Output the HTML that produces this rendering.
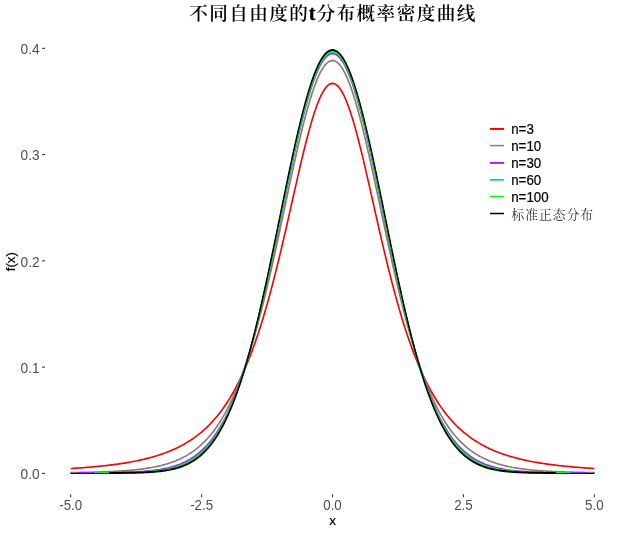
<!DOCTYPE html>
<html lang="zh"><head><meta charset="utf-8"><title>不同自由度的t分布概率密度曲线</title>
<style>
html,body{margin:0;padding:0;background:#fff;}
body{width:626px;height:533px;overflow:hidden;}
svg{display:block;}
text{font-family:"Liberation Sans",sans-serif;font-size:13.33px;}
.ax text{fill:#4D4D4D;}
.tk line{stroke:#333333;stroke-width:1.07;}
.cv path{fill:none;stroke-linejoin:round;stroke-linecap:butt;}
.ttl{font-family:"Liberation Serif","Noto Serif CJK SC",serif;font-weight:bold;font-size:20px;fill:#000;}
.tc{font-size:18.6px;letter-spacing:1.4px;font-weight:600;}
.tc2{letter-spacing:1.47px;}
.tt{font-size:20px;font-weight:bold;stroke:#000;stroke-width:0.3px;}
.lg{fill:#000;stroke:#000;stroke-width:0.2px;}
.lgc{font-family:"Liberation Serif","Noto Serif CJK SC",serif;font-weight:300;fill:#000;font-size:12.7px;letter-spacing:1.1px;}
.at{fill:#000;stroke:#000;stroke-width:0.2px;}
</style></head><body>
<svg width="626" height="533" viewBox="0 0 626 533">
<rect width="626" height="533" fill="#fff"/>
<text class="ttl" y="20.1"><tspan class="tc" x="189.3">不同自由度的</tspan><tspan class="tt" x="308.7">t</tspan><tspan class="tc tc2" x="316.4">分布概率密度曲线</tspan></text>
<g class="cv"><path d="M70.70,468.53 L72.01,468.45 L73.32,468.36 L74.63,468.28 L75.94,468.19 L77.25,468.11 L78.55,468.02 L79.86,467.92 L81.17,467.83 L82.48,467.73 L83.79,467.63 L85.10,467.53 L86.41,467.43 L87.72,467.32 L89.03,467.22 L90.34,467.11 L91.64,466.99 L92.95,466.88 L94.26,466.76 L95.57,466.64 L96.88,466.51 L98.19,466.39 L99.50,466.26 L100.81,466.12 L102.12,465.99 L103.42,465.85 L104.73,465.70 L106.04,465.56 L107.35,465.41 L108.66,465.25 L109.97,465.10 L111.28,464.93 L112.59,464.77 L113.90,464.60 L115.21,464.43 L116.51,464.25 L117.82,464.06 L119.13,463.88 L120.44,463.69 L121.75,463.49 L123.06,463.29 L124.37,463.08 L125.68,462.87 L126.99,462.65 L128.30,462.43 L129.60,462.20 L130.91,461.96 L132.22,461.72 L133.53,461.47 L134.84,461.22 L136.15,460.96 L137.46,460.69 L138.77,460.41 L140.08,460.13 L141.39,459.84 L142.69,459.54 L144.00,459.23 L145.31,458.92 L146.62,458.60 L147.93,458.26 L149.24,457.92 L150.55,457.57 L151.86,457.21 L153.17,456.84 L154.48,456.46 L155.78,456.07 L157.09,455.67 L158.40,455.25 L159.71,454.83 L161.02,454.39 L162.33,453.94 L163.64,453.47 L164.95,453.00 L166.26,452.51 L167.57,452.00 L168.88,451.48 L170.18,450.95 L171.49,450.40 L172.80,449.83 L174.11,449.25 L175.42,448.65 L176.73,448.03 L178.04,447.40 L179.35,446.74 L180.66,446.07 L181.96,445.37 L183.27,444.66 L184.58,443.92 L185.89,443.16 L187.20,442.38 L188.51,441.57 L189.82,440.74 L191.13,439.88 L192.44,439.00 L193.75,438.09 L195.05,437.16 L196.36,436.19 L197.67,435.19 L198.98,434.17 L200.29,433.11 L201.60,432.02 L202.91,430.89 L204.22,429.73 L205.53,428.54 L206.84,427.31 L208.14,426.03 L209.45,424.72 L210.76,423.37 L212.07,421.98 L213.38,420.54 L214.69,419.06 L216.00,417.53 L217.31,415.95 L218.62,414.33 L219.93,412.65 L221.23,410.92 L222.54,409.14 L223.85,407.30 L225.16,405.41 L226.47,403.45 L227.78,401.44 L229.09,399.36 L230.40,397.22 L231.71,395.02 L233.02,392.75 L234.32,390.40 L235.63,387.99 L236.94,385.51 L238.25,382.95 L239.56,380.31 L240.87,377.60 L242.18,374.80 L243.49,371.93 L244.80,368.97 L246.11,365.92 L247.41,362.79 L248.72,359.57 L250.03,356.26 L251.34,352.86 L252.65,349.37 L253.96,345.78 L255.27,342.10 L256.58,338.32 L257.89,334.44 L259.20,330.47 L260.50,326.40 L261.81,322.23 L263.12,317.96 L264.43,313.59 L265.74,309.12 L267.05,304.55 L268.36,299.89 L269.67,295.13 L270.98,290.28 L272.29,285.33 L273.59,280.29 L274.90,275.16 L276.21,269.95 L277.52,264.66 L278.83,259.29 L280.14,253.85 L281.45,248.33 L282.76,242.76 L284.07,237.13 L285.38,231.44 L286.68,225.72 L287.99,219.95 L289.30,214.16 L290.61,208.35 L291.92,202.53 L293.23,196.71 L294.54,190.90 L295.85,185.12 L297.16,179.36 L298.47,173.65 L299.77,167.99 L301.08,162.41 L302.39,156.91 L303.70,151.50 L305.01,146.20 L306.32,141.03 L307.63,135.99 L308.94,131.11 L310.25,126.39 L311.56,121.85 L312.86,117.50 L314.17,113.36 L315.48,109.45 L316.79,105.76 L318.10,102.32 L319.41,99.13 L320.72,96.22 L322.03,93.58 L323.34,91.23 L324.65,89.17 L325.95,87.42 L327.26,85.98 L328.57,84.85 L329.88,84.04 L331.19,83.56 L332.50,83.39 L333.81,83.56 L335.12,84.04 L336.43,84.85 L337.74,85.98 L339.04,87.42 L340.35,89.17 L341.66,91.23 L342.97,93.58 L344.28,96.22 L345.59,99.13 L346.90,102.32 L348.21,105.76 L349.52,109.45 L350.83,113.36 L352.13,117.50 L353.44,121.85 L354.75,126.39 L356.06,131.11 L357.37,135.99 L358.68,141.03 L359.99,146.20 L361.30,151.50 L362.61,156.91 L363.92,162.41 L365.22,167.99 L366.53,173.65 L367.84,179.36 L369.15,185.12 L370.46,190.90 L371.77,196.71 L373.08,202.53 L374.39,208.35 L375.70,214.16 L377.01,219.95 L378.31,225.72 L379.62,231.44 L380.93,237.13 L382.24,242.76 L383.55,248.33 L384.86,253.85 L386.17,259.29 L387.48,264.66 L388.79,269.95 L390.10,275.16 L391.40,280.29 L392.71,285.33 L394.02,290.28 L395.33,295.13 L396.64,299.89 L397.95,304.55 L399.26,309.12 L400.57,313.59 L401.88,317.96 L403.19,322.23 L404.49,326.40 L405.80,330.47 L407.11,334.44 L408.42,338.32 L409.73,342.10 L411.04,345.78 L412.35,349.37 L413.66,352.86 L414.97,356.26 L416.28,359.57 L417.58,362.79 L418.89,365.92 L420.20,368.97 L421.51,371.93 L422.82,374.80 L424.13,377.60 L425.44,380.31 L426.75,382.95 L428.06,385.51 L429.37,387.99 L430.67,390.40 L431.98,392.75 L433.29,395.02 L434.60,397.22 L435.91,399.36 L437.22,401.44 L438.53,403.45 L439.84,405.41 L441.15,407.30 L442.46,409.14 L443.76,410.92 L445.07,412.65 L446.38,414.33 L447.69,415.95 L449.00,417.53 L450.31,419.06 L451.62,420.54 L452.93,421.98 L454.24,423.37 L455.55,424.72 L456.85,426.03 L458.16,427.31 L459.47,428.54 L460.78,429.73 L462.09,430.89 L463.40,432.02 L464.71,433.11 L466.02,434.17 L467.33,435.19 L468.64,436.19 L469.94,437.16 L471.25,438.09 L472.56,439.00 L473.87,439.88 L475.18,440.74 L476.49,441.57 L477.80,442.38 L479.11,443.16 L480.42,443.92 L481.73,444.66 L483.03,445.37 L484.34,446.07 L485.65,446.74 L486.96,447.40 L488.27,448.03 L489.58,448.65 L490.89,449.25 L492.20,449.83 L493.51,450.40 L494.82,450.95 L496.12,451.48 L497.43,452.00 L498.74,452.51 L500.05,453.00 L501.36,453.47 L502.67,453.94 L503.98,454.39 L505.29,454.83 L506.60,455.25 L507.91,455.67 L509.21,456.07 L510.52,456.46 L511.83,456.84 L513.14,457.21 L514.45,457.57 L515.76,457.92 L517.07,458.26 L518.38,458.60 L519.69,458.92 L521.00,459.23 L522.30,459.54 L523.61,459.84 L524.92,460.13 L526.23,460.41 L527.54,460.69 L528.85,460.96 L530.16,461.22 L531.47,461.47 L532.78,461.72 L534.09,461.96 L535.39,462.20 L536.70,462.43 L538.01,462.65 L539.32,462.87 L540.63,463.08 L541.94,463.29 L543.25,463.49 L544.56,463.69 L545.87,463.88 L547.18,464.06 L548.49,464.25 L549.79,464.43 L551.10,464.60 L552.41,464.77 L553.72,464.93 L555.03,465.10 L556.34,465.25 L557.65,465.41 L558.96,465.56 L560.27,465.70 L561.57,465.85 L562.88,465.99 L564.19,466.12 L565.50,466.26 L566.81,466.39 L568.12,466.51 L569.43,466.64 L570.74,466.76 L572.05,466.88 L573.36,466.99 L574.66,467.11 L575.97,467.22 L577.28,467.32 L578.59,467.43 L579.90,467.53 L581.21,467.63 L582.52,467.73 L583.83,467.83 L585.14,467.92 L586.45,468.02 L587.75,468.11 L589.06,468.19 L590.37,468.28 L591.68,468.36 L592.99,468.45 L594.30,468.53" stroke="#FF0000" stroke-width="1.65"/><path d="M70.70,472.58 L72.01,472.56 L73.32,472.55 L74.63,472.53 L75.94,472.51 L77.25,472.49 L78.55,472.47 L79.86,472.45 L81.17,472.42 L82.48,472.40 L83.79,472.38 L85.10,472.35 L86.41,472.32 L87.72,472.30 L89.03,472.27 L90.34,472.24 L91.64,472.20 L92.95,472.17 L94.26,472.14 L95.57,472.10 L96.88,472.06 L98.19,472.02 L99.50,471.98 L100.81,471.94 L102.12,471.90 L103.42,471.85 L104.73,471.80 L106.04,471.75 L107.35,471.70 L108.66,471.64 L109.97,471.59 L111.28,471.53 L112.59,471.46 L113.90,471.40 L115.21,471.33 L116.51,471.26 L117.82,471.18 L119.13,471.10 L120.44,471.02 L121.75,470.94 L123.06,470.85 L124.37,470.75 L125.68,470.66 L126.99,470.56 L128.30,470.45 L129.60,470.34 L130.91,470.22 L132.22,470.10 L133.53,469.97 L134.84,469.84 L136.15,469.70 L137.46,469.56 L138.77,469.41 L140.08,469.25 L141.39,469.09 L142.69,468.91 L144.00,468.73 L145.31,468.55 L146.62,468.35 L147.93,468.14 L149.24,467.93 L150.55,467.71 L151.86,467.47 L153.17,467.23 L154.48,466.97 L155.78,466.70 L157.09,466.42 L158.40,466.13 L159.71,465.83 L161.02,465.51 L162.33,465.18 L163.64,464.83 L164.95,464.46 L166.26,464.09 L167.57,463.69 L168.88,463.28 L170.18,462.84 L171.49,462.39 L172.80,461.92 L174.11,461.43 L175.42,460.92 L176.73,460.38 L178.04,459.82 L179.35,459.24 L180.66,458.63 L181.96,457.99 L183.27,457.33 L184.58,456.63 L185.89,455.91 L187.20,455.16 L188.51,454.37 L189.82,453.55 L191.13,452.70 L192.44,451.81 L193.75,450.88 L195.05,449.92 L196.36,448.91 L197.67,447.86 L198.98,446.77 L200.29,445.63 L201.60,444.44 L202.91,443.21 L204.22,441.93 L205.53,440.60 L206.84,439.21 L208.14,437.76 L209.45,436.26 L210.76,434.71 L212.07,433.09 L213.38,431.40 L214.69,429.65 L216.00,427.84 L217.31,425.96 L218.62,424.00 L219.93,421.98 L221.23,419.88 L222.54,417.70 L223.85,415.44 L225.16,413.11 L226.47,410.69 L227.78,408.19 L229.09,405.60 L230.40,402.92 L231.71,400.15 L233.02,397.29 L234.32,394.34 L235.63,391.29 L236.94,388.14 L238.25,384.90 L239.56,381.55 L240.87,378.11 L242.18,374.56 L243.49,370.91 L244.80,367.15 L246.11,363.29 L247.41,359.33 L248.72,355.26 L250.03,351.08 L251.34,346.80 L252.65,342.40 L253.96,337.91 L255.27,333.31 L256.58,328.60 L257.89,323.79 L259.20,318.88 L260.50,313.87 L261.81,308.76 L263.12,303.56 L264.43,298.26 L265.74,292.87 L267.05,287.39 L268.36,281.83 L269.67,276.20 L270.98,270.48 L272.29,264.70 L273.59,258.85 L274.90,252.94 L276.21,246.97 L277.52,240.96 L278.83,234.91 L280.14,228.82 L281.45,222.70 L282.76,216.56 L284.07,210.41 L285.38,204.26 L286.68,198.11 L287.99,191.97 L289.30,185.86 L290.61,179.78 L291.92,173.74 L293.23,167.75 L294.54,161.82 L295.85,155.96 L297.16,150.19 L298.47,144.50 L299.77,138.92 L301.08,133.45 L302.39,128.11 L303.70,122.90 L305.01,117.83 L306.32,112.92 L307.63,108.18 L308.94,103.61 L310.25,99.22 L311.56,95.03 L312.86,91.04 L314.17,87.26 L315.48,83.70 L316.79,80.38 L318.10,77.29 L319.41,74.44 L320.72,71.84 L322.03,69.50 L323.34,67.42 L324.65,65.61 L325.95,64.07 L327.26,62.81 L328.57,61.82 L329.88,61.11 L331.19,60.69 L332.50,60.55 L333.81,60.69 L335.12,61.11 L336.43,61.82 L337.74,62.81 L339.04,64.07 L340.35,65.61 L341.66,67.42 L342.97,69.50 L344.28,71.84 L345.59,74.44 L346.90,77.29 L348.21,80.38 L349.52,83.70 L350.83,87.26 L352.13,91.04 L353.44,95.03 L354.75,99.22 L356.06,103.61 L357.37,108.18 L358.68,112.92 L359.99,117.83 L361.30,122.90 L362.61,128.11 L363.92,133.45 L365.22,138.92 L366.53,144.50 L367.84,150.19 L369.15,155.96 L370.46,161.82 L371.77,167.75 L373.08,173.74 L374.39,179.78 L375.70,185.86 L377.01,191.97 L378.31,198.11 L379.62,204.26 L380.93,210.41 L382.24,216.56 L383.55,222.70 L384.86,228.82 L386.17,234.91 L387.48,240.96 L388.79,246.97 L390.10,252.94 L391.40,258.85 L392.71,264.70 L394.02,270.48 L395.33,276.20 L396.64,281.83 L397.95,287.39 L399.26,292.87 L400.57,298.26 L401.88,303.56 L403.19,308.76 L404.49,313.87 L405.80,318.88 L407.11,323.79 L408.42,328.60 L409.73,333.31 L411.04,337.91 L412.35,342.40 L413.66,346.80 L414.97,351.08 L416.28,355.26 L417.58,359.33 L418.89,363.29 L420.20,367.15 L421.51,370.91 L422.82,374.56 L424.13,378.11 L425.44,381.55 L426.75,384.90 L428.06,388.14 L429.37,391.29 L430.67,394.34 L431.98,397.29 L433.29,400.15 L434.60,402.92 L435.91,405.60 L437.22,408.19 L438.53,410.69 L439.84,413.11 L441.15,415.44 L442.46,417.70 L443.76,419.88 L445.07,421.98 L446.38,424.00 L447.69,425.96 L449.00,427.84 L450.31,429.65 L451.62,431.40 L452.93,433.09 L454.24,434.71 L455.55,436.26 L456.85,437.76 L458.16,439.21 L459.47,440.60 L460.78,441.93 L462.09,443.21 L463.40,444.44 L464.71,445.63 L466.02,446.77 L467.33,447.86 L468.64,448.91 L469.94,449.92 L471.25,450.88 L472.56,451.81 L473.87,452.70 L475.18,453.55 L476.49,454.37 L477.80,455.16 L479.11,455.91 L480.42,456.63 L481.73,457.33 L483.03,457.99 L484.34,458.63 L485.65,459.24 L486.96,459.82 L488.27,460.38 L489.58,460.92 L490.89,461.43 L492.20,461.92 L493.51,462.39 L494.82,462.84 L496.12,463.28 L497.43,463.69 L498.74,464.09 L500.05,464.46 L501.36,464.83 L502.67,465.18 L503.98,465.51 L505.29,465.83 L506.60,466.13 L507.91,466.42 L509.21,466.70 L510.52,466.97 L511.83,467.23 L513.14,467.47 L514.45,467.71 L515.76,467.93 L517.07,468.14 L518.38,468.35 L519.69,468.55 L521.00,468.73 L522.30,468.91 L523.61,469.09 L524.92,469.25 L526.23,469.41 L527.54,469.56 L528.85,469.70 L530.16,469.84 L531.47,469.97 L532.78,470.10 L534.09,470.22 L535.39,470.34 L536.70,470.45 L538.01,470.56 L539.32,470.66 L540.63,470.75 L541.94,470.85 L543.25,470.94 L544.56,471.02 L545.87,471.10 L547.18,471.18 L548.49,471.26 L549.79,471.33 L551.10,471.40 L552.41,471.46 L553.72,471.53 L555.03,471.59 L556.34,471.64 L557.65,471.70 L558.96,471.75 L560.27,471.80 L561.57,471.85 L562.88,471.90 L564.19,471.94 L565.50,471.98 L566.81,472.02 L568.12,472.06 L569.43,472.10 L570.74,472.14 L572.05,472.17 L573.36,472.20 L574.66,472.24 L575.97,472.27 L577.28,472.30 L578.59,472.32 L579.90,472.35 L581.21,472.38 L582.52,472.40 L583.83,472.42 L585.14,472.45 L586.45,472.47 L587.75,472.49 L589.06,472.51 L590.37,472.53 L591.68,472.55 L592.99,472.56 L594.30,472.58" stroke="#8B7D6B" stroke-width="1.65"/><path d="M70.70,472.97 L72.01,472.96 L73.32,472.96 L74.63,472.96 L75.94,472.95 L77.25,472.95 L78.55,472.95 L79.86,472.94 L81.17,472.94 L82.48,472.93 L83.79,472.93 L85.10,472.92 L86.41,472.92 L87.72,472.91 L89.03,472.91 L90.34,472.90 L91.64,472.89 L92.95,472.89 L94.26,472.88 L95.57,472.87 L96.88,472.86 L98.19,472.85 L99.50,472.84 L100.81,472.83 L102.12,472.81 L103.42,472.80 L104.73,472.79 L106.04,472.77 L107.35,472.75 L108.66,472.74 L109.97,472.72 L111.28,472.70 L112.59,472.68 L113.90,472.65 L115.21,472.63 L116.51,472.60 L117.82,472.58 L119.13,472.55 L120.44,472.51 L121.75,472.48 L123.06,472.44 L124.37,472.41 L125.68,472.36 L126.99,472.32 L128.30,472.27 L129.60,472.22 L130.91,472.17 L132.22,472.11 L133.53,472.05 L134.84,471.99 L136.15,471.92 L137.46,471.84 L138.77,471.76 L140.08,471.68 L141.39,471.59 L142.69,471.50 L144.00,471.39 L145.31,471.29 L146.62,471.17 L147.93,471.05 L149.24,470.92 L150.55,470.78 L151.86,470.64 L153.17,470.48 L154.48,470.32 L155.78,470.14 L157.09,469.96 L158.40,469.76 L159.71,469.55 L161.02,469.33 L162.33,469.09 L163.64,468.84 L164.95,468.58 L166.26,468.30 L167.57,468.00 L168.88,467.68 L170.18,467.35 L171.49,467.00 L172.80,466.63 L174.11,466.23 L175.42,465.81 L176.73,465.37 L178.04,464.91 L179.35,464.42 L180.66,463.90 L181.96,463.35 L183.27,462.77 L184.58,462.17 L185.89,461.53 L187.20,460.85 L188.51,460.14 L189.82,459.39 L191.13,458.60 L192.44,457.77 L193.75,456.90 L195.05,455.99 L196.36,455.03 L197.67,454.02 L198.98,452.96 L200.29,451.84 L201.60,450.68 L202.91,449.46 L204.22,448.18 L205.53,446.84 L206.84,445.44 L208.14,443.97 L209.45,442.44 L210.76,440.84 L212.07,439.16 L213.38,437.42 L214.69,435.60 L216.00,433.70 L217.31,431.72 L218.62,429.66 L219.93,427.51 L221.23,425.28 L222.54,422.95 L223.85,420.54 L225.16,418.04 L226.47,415.43 L227.78,412.74 L229.09,409.94 L230.40,407.04 L231.71,404.04 L233.02,400.94 L234.32,397.73 L235.63,394.41 L236.94,390.98 L238.25,387.45 L239.56,383.80 L240.87,380.04 L242.18,376.18 L243.49,372.19 L244.80,368.10 L246.11,363.89 L247.41,359.57 L248.72,355.14 L250.03,350.60 L251.34,345.94 L252.65,341.17 L253.96,336.30 L255.27,331.32 L256.58,326.23 L257.89,321.05 L259.20,315.76 L260.50,310.37 L261.81,304.89 L263.12,299.32 L264.43,293.66 L265.74,287.92 L267.05,282.09 L268.36,276.20 L269.67,270.23 L270.98,264.20 L272.29,258.12 L273.59,251.98 L274.90,245.79 L276.21,239.57 L277.52,233.31 L278.83,227.03 L280.14,220.73 L281.45,214.42 L282.76,208.10 L284.07,201.80 L285.38,195.50 L286.68,189.24 L287.99,183.00 L289.30,176.80 L290.61,170.66 L291.92,164.57 L293.23,158.55 L294.54,152.61 L295.85,146.76 L297.16,141.01 L298.47,135.36 L299.77,129.83 L301.08,124.42 L302.39,119.15 L303.70,114.03 L305.01,109.06 L306.32,104.25 L307.63,99.61 L308.94,95.16 L310.25,90.89 L311.56,86.82 L312.86,82.95 L314.17,79.30 L315.48,75.86 L316.79,72.66 L318.10,69.68 L319.41,66.94 L320.72,64.45 L322.03,62.20 L323.34,60.21 L324.65,58.48 L325.95,57.00 L327.26,55.79 L328.57,54.85 L329.88,54.17 L331.19,53.77 L332.50,53.63 L333.81,53.77 L335.12,54.17 L336.43,54.85 L337.74,55.79 L339.04,57.00 L340.35,58.48 L341.66,60.21 L342.97,62.20 L344.28,64.45 L345.59,66.94 L346.90,69.68 L348.21,72.66 L349.52,75.86 L350.83,79.30 L352.13,82.95 L353.44,86.82 L354.75,90.89 L356.06,95.16 L357.37,99.61 L358.68,104.25 L359.99,109.06 L361.30,114.03 L362.61,119.15 L363.92,124.42 L365.22,129.83 L366.53,135.36 L367.84,141.01 L369.15,146.76 L370.46,152.61 L371.77,158.55 L373.08,164.57 L374.39,170.66 L375.70,176.80 L377.01,183.00 L378.31,189.24 L379.62,195.50 L380.93,201.80 L382.24,208.10 L383.55,214.42 L384.86,220.73 L386.17,227.03 L387.48,233.31 L388.79,239.57 L390.10,245.79 L391.40,251.98 L392.71,258.12 L394.02,264.20 L395.33,270.23 L396.64,276.20 L397.95,282.09 L399.26,287.92 L400.57,293.66 L401.88,299.32 L403.19,304.89 L404.49,310.37 L405.80,315.76 L407.11,321.05 L408.42,326.23 L409.73,331.32 L411.04,336.30 L412.35,341.17 L413.66,345.94 L414.97,350.60 L416.28,355.14 L417.58,359.57 L418.89,363.89 L420.20,368.10 L421.51,372.19 L422.82,376.18 L424.13,380.04 L425.44,383.80 L426.75,387.45 L428.06,390.98 L429.37,394.41 L430.67,397.73 L431.98,400.94 L433.29,404.04 L434.60,407.04 L435.91,409.94 L437.22,412.74 L438.53,415.43 L439.84,418.04 L441.15,420.54 L442.46,422.95 L443.76,425.28 L445.07,427.51 L446.38,429.66 L447.69,431.72 L449.00,433.70 L450.31,435.60 L451.62,437.42 L452.93,439.16 L454.24,440.84 L455.55,442.44 L456.85,443.97 L458.16,445.44 L459.47,446.84 L460.78,448.18 L462.09,449.46 L463.40,450.68 L464.71,451.84 L466.02,452.96 L467.33,454.02 L468.64,455.03 L469.94,455.99 L471.25,456.90 L472.56,457.77 L473.87,458.60 L475.18,459.39 L476.49,460.14 L477.80,460.85 L479.11,461.53 L480.42,462.17 L481.73,462.77 L483.03,463.35 L484.34,463.90 L485.65,464.42 L486.96,464.91 L488.27,465.37 L489.58,465.81 L490.89,466.23 L492.20,466.63 L493.51,467.00 L494.82,467.35 L496.12,467.68 L497.43,468.00 L498.74,468.30 L500.05,468.58 L501.36,468.84 L502.67,469.09 L503.98,469.33 L505.29,469.55 L506.60,469.76 L507.91,469.96 L509.21,470.14 L510.52,470.32 L511.83,470.48 L513.14,470.64 L514.45,470.78 L515.76,470.92 L517.07,471.05 L518.38,471.17 L519.69,471.29 L521.00,471.39 L522.30,471.50 L523.61,471.59 L524.92,471.68 L526.23,471.76 L527.54,471.84 L528.85,471.92 L530.16,471.99 L531.47,472.05 L532.78,472.11 L534.09,472.17 L535.39,472.22 L536.70,472.27 L538.01,472.32 L539.32,472.36 L540.63,472.41 L541.94,472.44 L543.25,472.48 L544.56,472.51 L545.87,472.55 L547.18,472.58 L548.49,472.60 L549.79,472.63 L551.10,472.65 L552.41,472.68 L553.72,472.70 L555.03,472.72 L556.34,472.74 L557.65,472.75 L558.96,472.77 L560.27,472.79 L561.57,472.80 L562.88,472.81 L564.19,472.83 L565.50,472.84 L566.81,472.85 L568.12,472.86 L569.43,472.87 L570.74,472.88 L572.05,472.89 L573.36,472.89 L574.66,472.90 L575.97,472.91 L577.28,472.91 L578.59,472.92 L579.90,472.92 L581.21,472.93 L582.52,472.93 L583.83,472.94 L585.14,472.94 L586.45,472.95 L587.75,472.95 L589.06,472.95 L590.37,472.96 L591.68,472.96 L592.99,472.96 L594.30,472.97" stroke="#A020F0" stroke-width="1.65"/><path d="M70.70,472.99 L72.01,472.99 L73.32,472.99 L74.63,472.99 L75.94,472.99 L77.25,472.98 L78.55,472.98 L79.86,472.98 L81.17,472.98 L82.48,472.98 L83.79,472.98 L85.10,472.97 L86.41,472.97 L87.72,472.97 L89.03,472.96 L90.34,472.96 L91.64,472.96 L92.95,472.95 L94.26,472.95 L95.57,472.95 L96.88,472.94 L98.19,472.94 L99.50,472.93 L100.81,472.92 L102.12,472.92 L103.42,472.91 L104.73,472.90 L106.04,472.89 L107.35,472.88 L108.66,472.87 L109.97,472.86 L111.28,472.85 L112.59,472.84 L113.90,472.82 L115.21,472.81 L116.51,472.79 L117.82,472.77 L119.13,472.76 L120.44,472.74 L121.75,472.71 L123.06,472.69 L124.37,472.66 L125.68,472.63 L126.99,472.60 L128.30,472.57 L129.60,472.54 L130.91,472.50 L132.22,472.46 L133.53,472.41 L134.84,472.37 L136.15,472.32 L137.46,472.26 L138.77,472.20 L140.08,472.14 L141.39,472.07 L142.69,472.00 L144.00,471.92 L145.31,471.83 L146.62,471.74 L147.93,471.65 L149.24,471.54 L150.55,471.43 L151.86,471.31 L153.17,471.18 L154.48,471.05 L155.78,470.90 L157.09,470.74 L158.40,470.58 L159.71,470.40 L161.02,470.21 L162.33,470.00 L163.64,469.79 L164.95,469.55 L166.26,469.31 L167.57,469.04 L168.88,468.76 L170.18,468.47 L171.49,468.15 L172.80,467.81 L174.11,467.45 L175.42,467.07 L176.73,466.66 L178.04,466.23 L179.35,465.78 L180.66,465.29 L181.96,464.78 L183.27,464.24 L184.58,463.66 L185.89,463.05 L187.20,462.41 L188.51,461.73 L189.82,461.01 L191.13,460.25 L192.44,459.45 L193.75,458.60 L195.05,457.71 L196.36,456.77 L197.67,455.78 L198.98,454.74 L200.29,453.65 L201.60,452.50 L202.91,451.29 L204.22,450.02 L205.53,448.68 L206.84,447.29 L208.14,445.82 L209.45,444.28 L210.76,442.68 L212.07,441.00 L213.38,439.24 L214.69,437.40 L216.00,435.48 L217.31,433.48 L218.62,431.39 L219.93,429.22 L221.23,426.95 L222.54,424.59 L223.85,422.13 L225.16,419.58 L226.47,416.93 L227.78,414.18 L229.09,411.32 L230.40,408.36 L231.71,405.30 L233.02,402.12 L234.32,398.84 L235.63,395.45 L236.94,391.94 L238.25,388.32 L239.56,384.59 L240.87,380.74 L242.18,376.78 L243.49,372.70 L244.80,368.51 L246.11,364.21 L247.41,359.78 L248.72,355.25 L250.03,350.60 L251.34,345.84 L252.65,340.97 L253.96,335.98 L255.27,330.90 L256.58,325.70 L257.89,320.41 L259.20,315.01 L260.50,309.52 L261.81,303.94 L263.12,298.26 L264.43,292.50 L265.74,286.66 L267.05,280.75 L268.36,274.76 L269.67,268.70 L270.98,262.59 L272.29,256.42 L273.59,250.21 L274.90,243.95 L276.21,237.65 L277.52,231.33 L278.83,224.99 L280.14,218.63 L281.45,212.27 L282.76,205.92 L284.07,199.57 L285.38,193.24 L286.68,186.94 L287.99,180.68 L289.30,174.47 L290.61,168.31 L291.92,162.21 L293.23,156.19 L294.54,150.25 L295.85,144.40 L297.16,138.65 L298.47,133.02 L299.77,127.50 L301.08,122.11 L302.39,116.86 L303.70,111.76 L305.01,106.82 L306.32,102.04 L307.63,97.43 L308.94,93.01 L310.25,88.77 L311.56,84.73 L312.86,80.90 L314.17,77.28 L315.48,73.88 L316.79,70.70 L318.10,67.75 L319.41,65.04 L320.72,62.57 L322.03,60.35 L323.34,58.38 L324.65,56.67 L325.95,55.21 L327.26,54.01 L328.57,53.08 L329.88,52.41 L331.19,52.01 L332.50,51.88 L333.81,52.01 L335.12,52.41 L336.43,53.08 L337.74,54.01 L339.04,55.21 L340.35,56.67 L341.66,58.38 L342.97,60.35 L344.28,62.57 L345.59,65.04 L346.90,67.75 L348.21,70.70 L349.52,73.88 L350.83,77.28 L352.13,80.90 L353.44,84.73 L354.75,88.77 L356.06,93.01 L357.37,97.43 L358.68,102.04 L359.99,106.82 L361.30,111.76 L362.61,116.86 L363.92,122.11 L365.22,127.50 L366.53,133.02 L367.84,138.65 L369.15,144.40 L370.46,150.25 L371.77,156.19 L373.08,162.21 L374.39,168.31 L375.70,174.47 L377.01,180.68 L378.31,186.94 L379.62,193.24 L380.93,199.57 L382.24,205.92 L383.55,212.27 L384.86,218.63 L386.17,224.99 L387.48,231.33 L388.79,237.65 L390.10,243.95 L391.40,250.21 L392.71,256.42 L394.02,262.59 L395.33,268.70 L396.64,274.76 L397.95,280.75 L399.26,286.66 L400.57,292.50 L401.88,298.26 L403.19,303.94 L404.49,309.52 L405.80,315.01 L407.11,320.41 L408.42,325.70 L409.73,330.90 L411.04,335.98 L412.35,340.97 L413.66,345.84 L414.97,350.60 L416.28,355.25 L417.58,359.78 L418.89,364.21 L420.20,368.51 L421.51,372.70 L422.82,376.78 L424.13,380.74 L425.44,384.59 L426.75,388.32 L428.06,391.94 L429.37,395.45 L430.67,398.84 L431.98,402.12 L433.29,405.30 L434.60,408.36 L435.91,411.32 L437.22,414.18 L438.53,416.93 L439.84,419.58 L441.15,422.13 L442.46,424.59 L443.76,426.95 L445.07,429.22 L446.38,431.39 L447.69,433.48 L449.00,435.48 L450.31,437.40 L451.62,439.24 L452.93,441.00 L454.24,442.68 L455.55,444.28 L456.85,445.82 L458.16,447.29 L459.47,448.68 L460.78,450.02 L462.09,451.29 L463.40,452.50 L464.71,453.65 L466.02,454.74 L467.33,455.78 L468.64,456.77 L469.94,457.71 L471.25,458.60 L472.56,459.45 L473.87,460.25 L475.18,461.01 L476.49,461.73 L477.80,462.41 L479.11,463.05 L480.42,463.66 L481.73,464.24 L483.03,464.78 L484.34,465.29 L485.65,465.78 L486.96,466.23 L488.27,466.66 L489.58,467.07 L490.89,467.45 L492.20,467.81 L493.51,468.15 L494.82,468.47 L496.12,468.76 L497.43,469.04 L498.74,469.31 L500.05,469.55 L501.36,469.79 L502.67,470.00 L503.98,470.21 L505.29,470.40 L506.60,470.58 L507.91,470.74 L509.21,470.90 L510.52,471.05 L511.83,471.18 L513.14,471.31 L514.45,471.43 L515.76,471.54 L517.07,471.65 L518.38,471.74 L519.69,471.83 L521.00,471.92 L522.30,472.00 L523.61,472.07 L524.92,472.14 L526.23,472.20 L527.54,472.26 L528.85,472.32 L530.16,472.37 L531.47,472.41 L532.78,472.46 L534.09,472.50 L535.39,472.54 L536.70,472.57 L538.01,472.60 L539.32,472.63 L540.63,472.66 L541.94,472.69 L543.25,472.71 L544.56,472.74 L545.87,472.76 L547.18,472.77 L548.49,472.79 L549.79,472.81 L551.10,472.82 L552.41,472.84 L553.72,472.85 L555.03,472.86 L556.34,472.87 L557.65,472.88 L558.96,472.89 L560.27,472.90 L561.57,472.91 L562.88,472.92 L564.19,472.92 L565.50,472.93 L566.81,472.94 L568.12,472.94 L569.43,472.95 L570.74,472.95 L572.05,472.95 L573.36,472.96 L574.66,472.96 L575.97,472.96 L577.28,472.97 L578.59,472.97 L579.90,472.97 L581.21,472.98 L582.52,472.98 L583.83,472.98 L585.14,472.98 L586.45,472.98 L587.75,472.98 L589.06,472.99 L590.37,472.99 L591.68,472.99 L592.99,472.99 L594.30,472.99" stroke="#00CDCD" stroke-width="1.65"/><path d="M70.70,472.99 L72.01,472.99 L73.32,472.99 L74.63,472.99 L75.94,472.99 L77.25,472.99 L78.55,472.99 L79.86,472.99 L81.17,472.99 L82.48,472.99 L83.79,472.99 L85.10,472.98 L86.41,472.98 L87.72,472.98 L89.03,472.98 L90.34,472.98 L91.64,472.97 L92.95,472.97 L94.26,472.97 L95.57,472.97 L96.88,472.96 L98.19,472.96 L99.50,472.95 L100.81,472.95 L102.12,472.94 L103.42,472.94 L104.73,472.93 L106.04,472.93 L107.35,472.92 L108.66,472.91 L109.97,472.90 L111.28,472.89 L112.59,472.88 L113.90,472.87 L115.21,472.86 L116.51,472.85 L117.82,472.84 L119.13,472.82 L120.44,472.80 L121.75,472.79 L123.06,472.77 L124.37,472.74 L125.68,472.72 L126.99,472.70 L128.30,472.67 L129.60,472.64 L130.91,472.61 L132.22,472.57 L133.53,472.54 L134.84,472.50 L136.15,472.45 L137.46,472.40 L138.77,472.35 L140.08,472.30 L141.39,472.24 L142.69,472.17 L144.00,472.10 L145.31,472.03 L146.62,471.95 L147.93,471.86 L149.24,471.77 L150.55,471.67 L151.86,471.56 L153.17,471.44 L154.48,471.32 L155.78,471.18 L157.09,471.04 L158.40,470.88 L159.71,470.72 L161.02,470.54 L162.33,470.35 L163.64,470.15 L164.95,469.93 L166.26,469.70 L167.57,469.45 L168.88,469.18 L170.18,468.90 L171.49,468.60 L172.80,468.28 L174.11,467.93 L175.42,467.57 L176.73,467.18 L178.04,466.76 L179.35,466.32 L180.66,465.85 L181.96,465.36 L183.27,464.83 L184.58,464.27 L185.89,463.67 L187.20,463.04 L188.51,462.38 L189.82,461.67 L191.13,460.92 L192.44,460.14 L193.75,459.30 L195.05,458.42 L196.36,457.49 L197.67,456.51 L198.98,455.48 L200.29,454.40 L201.60,453.25 L202.91,452.05 L204.22,450.78 L205.53,449.46 L206.84,448.06 L208.14,446.60 L209.45,445.06 L210.76,443.45 L212.07,441.77 L213.38,440.01 L214.69,438.16 L216.00,436.24 L217.31,434.23 L218.62,432.13 L219.93,429.94 L221.23,427.66 L222.54,425.29 L223.85,422.81 L225.16,420.24 L226.47,417.57 L227.78,414.80 L229.09,411.92 L230.40,408.93 L231.71,405.84 L233.02,402.64 L234.32,399.32 L235.63,395.90 L236.94,392.36 L238.25,388.70 L239.56,384.94 L240.87,381.05 L242.18,377.05 L243.49,372.93 L244.80,368.70 L246.11,364.35 L247.41,359.89 L248.72,355.31 L250.03,350.62 L251.34,345.81 L252.65,340.90 L253.96,335.87 L255.27,330.74 L256.58,325.50 L257.89,320.16 L259.20,314.72 L260.50,309.19 L261.81,303.56 L263.12,297.84 L264.43,292.04 L265.74,286.16 L267.05,280.21 L268.36,274.18 L269.67,268.09 L270.98,261.94 L272.29,255.74 L273.59,249.49 L274.90,243.20 L276.21,236.88 L277.52,230.53 L278.83,224.17 L280.14,217.79 L281.45,211.41 L282.76,205.03 L284.07,198.67 L285.38,192.33 L286.68,186.02 L287.99,179.75 L289.30,173.52 L290.61,167.36 L291.92,161.26 L293.23,155.23 L294.54,149.29 L295.85,143.45 L297.16,137.70 L298.47,132.07 L299.77,126.56 L301.08,121.18 L302.39,115.94 L303.70,110.85 L305.01,105.92 L306.32,101.15 L307.63,96.55 L308.94,92.14 L310.25,87.92 L311.56,83.89 L312.86,80.07 L314.17,76.47 L315.48,73.08 L316.79,69.91 L318.10,66.98 L319.41,64.28 L320.72,61.82 L322.03,59.61 L323.34,57.65 L324.65,55.94 L325.95,54.49 L327.26,53.30 L328.57,52.37 L329.88,51.71 L331.19,51.31 L332.50,51.18 L333.81,51.31 L335.12,51.71 L336.43,52.37 L337.74,53.30 L339.04,54.49 L340.35,55.94 L341.66,57.65 L342.97,59.61 L344.28,61.82 L345.59,64.28 L346.90,66.98 L348.21,69.91 L349.52,73.08 L350.83,76.47 L352.13,80.07 L353.44,83.89 L354.75,87.92 L356.06,92.14 L357.37,96.55 L358.68,101.15 L359.99,105.92 L361.30,110.85 L362.61,115.94 L363.92,121.18 L365.22,126.56 L366.53,132.07 L367.84,137.70 L369.15,143.45 L370.46,149.29 L371.77,155.23 L373.08,161.26 L374.39,167.36 L375.70,173.52 L377.01,179.75 L378.31,186.02 L379.62,192.33 L380.93,198.67 L382.24,205.03 L383.55,211.41 L384.86,217.79 L386.17,224.17 L387.48,230.53 L388.79,236.88 L390.10,243.20 L391.40,249.49 L392.71,255.74 L394.02,261.94 L395.33,268.09 L396.64,274.18 L397.95,280.21 L399.26,286.16 L400.57,292.04 L401.88,297.84 L403.19,303.56 L404.49,309.19 L405.80,314.72 L407.11,320.16 L408.42,325.50 L409.73,330.74 L411.04,335.87 L412.35,340.90 L413.66,345.81 L414.97,350.62 L416.28,355.31 L417.58,359.89 L418.89,364.35 L420.20,368.70 L421.51,372.93 L422.82,377.05 L424.13,381.05 L425.44,384.94 L426.75,388.70 L428.06,392.36 L429.37,395.90 L430.67,399.32 L431.98,402.64 L433.29,405.84 L434.60,408.93 L435.91,411.92 L437.22,414.80 L438.53,417.57 L439.84,420.24 L441.15,422.81 L442.46,425.29 L443.76,427.66 L445.07,429.94 L446.38,432.13 L447.69,434.23 L449.00,436.24 L450.31,438.16 L451.62,440.01 L452.93,441.77 L454.24,443.45 L455.55,445.06 L456.85,446.60 L458.16,448.06 L459.47,449.46 L460.78,450.78 L462.09,452.05 L463.40,453.25 L464.71,454.40 L466.02,455.48 L467.33,456.51 L468.64,457.49 L469.94,458.42 L471.25,459.30 L472.56,460.14 L473.87,460.92 L475.18,461.67 L476.49,462.38 L477.80,463.04 L479.11,463.67 L480.42,464.27 L481.73,464.83 L483.03,465.36 L484.34,465.85 L485.65,466.32 L486.96,466.76 L488.27,467.18 L489.58,467.57 L490.89,467.93 L492.20,468.28 L493.51,468.60 L494.82,468.90 L496.12,469.18 L497.43,469.45 L498.74,469.70 L500.05,469.93 L501.36,470.15 L502.67,470.35 L503.98,470.54 L505.29,470.72 L506.60,470.88 L507.91,471.04 L509.21,471.18 L510.52,471.32 L511.83,471.44 L513.14,471.56 L514.45,471.67 L515.76,471.77 L517.07,471.86 L518.38,471.95 L519.69,472.03 L521.00,472.10 L522.30,472.17 L523.61,472.24 L524.92,472.30 L526.23,472.35 L527.54,472.40 L528.85,472.45 L530.16,472.50 L531.47,472.54 L532.78,472.57 L534.09,472.61 L535.39,472.64 L536.70,472.67 L538.01,472.70 L539.32,472.72 L540.63,472.74 L541.94,472.77 L543.25,472.79 L544.56,472.80 L545.87,472.82 L547.18,472.84 L548.49,472.85 L549.79,472.86 L551.10,472.87 L552.41,472.88 L553.72,472.89 L555.03,472.90 L556.34,472.91 L557.65,472.92 L558.96,472.93 L560.27,472.93 L561.57,472.94 L562.88,472.94 L564.19,472.95 L565.50,472.95 L566.81,472.96 L568.12,472.96 L569.43,472.97 L570.74,472.97 L572.05,472.97 L573.36,472.97 L574.66,472.98 L575.97,472.98 L577.28,472.98 L578.59,472.98 L579.90,472.98 L581.21,472.99 L582.52,472.99 L583.83,472.99 L585.14,472.99 L586.45,472.99 L587.75,472.99 L589.06,472.99 L590.37,472.99 L591.68,472.99 L592.99,472.99 L594.30,472.99" stroke="#00FF00" stroke-width="1.65"/><polygon points="70.70,472.00 71.35,472.00 72.01,472.00 72.66,472.00 73.32,472.00 73.97,472.00 74.63,472.00 75.28,472.00 75.94,472.00 76.59,472.00 77.24,472.00 77.90,472.00 78.55,472.00 79.21,472.00 79.86,472.00 80.52,472.00 81.17,472.00 81.83,472.00 82.48,472.00 83.13,472.00 83.79,471.99 84.44,471.99 85.10,471.99 85.75,471.99 86.41,471.99 87.06,471.99 87.72,471.99 88.37,471.99 89.03,471.99 89.68,471.99 90.33,471.99 90.99,471.99 91.64,471.99 92.30,471.99 92.95,471.99 93.61,471.99 94.26,471.99 94.91,471.99 95.57,471.99 96.22,471.98 96.88,471.98 97.53,471.98 98.19,471.98 98.84,471.98 99.50,471.98 100.15,471.98 100.80,471.98 101.46,471.98 102.11,471.97 102.77,471.97 103.42,471.97 104.08,471.97 104.73,471.97 105.38,471.97 106.04,471.97 106.69,471.96 107.35,471.96 108.00,471.96 108.66,471.96 109.31,471.95 109.96,471.95 110.62,471.95 111.27,471.95 111.93,471.94 112.58,471.94 113.24,471.94 113.89,471.93 114.54,471.93 115.20,471.93 115.85,471.92 116.51,471.92 117.16,471.91 117.81,471.91 118.47,471.91 119.12,471.90 119.78,471.90 120.43,471.89 121.08,471.88 121.74,471.88 122.39,471.87 123.05,471.87 123.70,471.86 124.35,471.85 125.01,471.84 125.66,471.84 126.31,471.83 126.97,471.82 127.62,471.81 128.28,471.80 128.93,471.79 129.58,471.78 130.24,471.77 130.89,471.76 131.54,471.75 132.20,471.73 132.85,471.72 133.50,471.71 134.16,471.69 134.81,471.68 135.46,471.66 136.12,471.65 136.77,471.63 137.42,471.61 138.07,471.59 138.73,471.57 139.38,471.55 140.03,471.53 140.69,471.51 141.34,471.49 141.99,471.46 142.64,471.44 143.30,471.41 143.95,471.39 144.60,471.36 145.25,471.33 145.90,471.30 146.56,471.27 147.21,471.23 147.86,471.20 148.51,471.16 149.16,471.12 149.81,471.08 150.47,471.04 151.12,471.00 151.77,470.96 152.42,470.91 153.07,470.86 153.72,470.81 154.37,470.76 155.02,470.71 155.67,470.65 156.32,470.59 156.97,470.53 157.62,470.47 158.27,470.41 158.92,470.34 159.57,470.27 160.22,470.19 160.87,470.12 161.52,470.04 162.17,469.96 162.82,469.87 163.47,469.79 164.12,469.69 164.77,469.60 165.42,469.50 166.06,469.40 166.71,469.29 167.36,469.18 168.01,469.07 168.66,468.95 169.30,468.83 169.95,468.70 170.60,468.57 171.25,468.44 171.89,468.30 172.54,468.15 173.19,468.00 173.84,467.85 174.48,467.69 175.13,467.52 175.78,467.35 176.42,467.17 177.07,466.98 177.72,466.79 178.36,466.60 179.01,466.39 179.65,466.18 180.30,465.97 180.95,465.74 181.59,465.51 182.24,465.27 182.88,465.02 183.53,464.77 184.17,464.50 184.82,464.23 185.46,463.95 186.11,463.66 186.76,463.36 187.40,463.05 188.05,462.74 188.69,462.41 189.34,462.07 189.98,461.72 190.63,461.36 191.27,461.00 191.92,460.62 192.56,460.22 193.21,459.82 193.85,459.41 194.50,458.98 195.14,458.54 195.79,458.09 196.44,457.62 197.08,457.14 197.73,456.65 198.37,456.14 199.02,455.63 199.66,455.09 200.31,454.54 200.96,453.98 201.60,453.40 202.25,452.80 202.90,452.19 203.54,451.57 204.19,450.92 204.84,450.26 205.48,449.59 206.13,448.89 206.78,448.18 207.42,447.45 208.07,446.70 208.72,445.93 209.37,445.15 210.02,444.34 210.66,443.51 211.31,442.67 211.96,441.80 212.61,440.92 213.26,440.01 213.91,439.08 214.56,438.13 215.21,437.16 215.85,436.17 216.50,435.15 217.15,434.11 217.80,433.05 218.45,431.97 219.10,430.86 219.75,429.73 220.40,428.57 221.06,427.39 221.71,426.19 222.36,424.96 223.01,423.70 223.66,422.42 224.31,421.11 224.96,419.78 225.61,418.42 226.26,417.03 226.92,415.62 227.57,414.18 228.22,412.71 228.87,411.22 229.52,409.70 230.18,408.15 230.83,406.57 231.48,404.97 232.13,403.33 232.79,401.67 233.44,399.98 234.09,398.26 234.74,396.51 235.40,394.73 236.05,392.92 236.70,391.09 237.35,389.22 238.01,387.33 238.66,385.40 239.31,383.45 239.97,381.46 240.62,379.45 241.27,377.41 241.93,375.34 242.58,373.23 243.23,371.10 243.89,368.94 244.54,366.75 245.19,364.53 245.85,362.28 246.50,360.00 247.16,357.69 247.81,355.36 248.46,352.99 249.12,350.60 249.77,348.18 250.42,345.73 251.08,343.25 251.73,340.74 252.39,338.21 253.04,335.65 253.69,333.06 254.35,330.45 255.00,327.81 255.66,325.14 256.31,322.45 256.96,319.73 257.62,316.99 258.27,314.22 258.93,311.43 259.58,308.62 260.23,305.78 260.89,302.92 261.54,300.04 262.20,297.14 262.85,294.22 263.50,291.27 264.16,288.31 264.81,285.33 265.47,282.33 266.12,279.31 266.78,276.27 267.43,273.22 268.08,270.15 268.74,267.07 269.39,263.98 270.05,260.87 270.70,257.74 271.36,254.61 272.01,251.46 272.66,248.31 273.32,245.14 273.97,241.97 274.63,238.79 275.28,235.60 275.94,232.40 276.59,229.20 277.25,226.00 277.90,222.80 278.55,219.59 279.21,216.38 279.86,213.17 280.52,209.96 281.17,206.76 281.83,203.55 282.48,200.35 283.14,197.16 283.79,193.97 284.45,190.79 285.10,187.62 285.75,184.46 286.41,181.30 287.06,178.16 287.72,175.04 288.37,171.92 289.03,168.82 289.68,165.74 290.34,162.67 290.99,159.63 291.65,156.60 292.30,153.59 292.96,150.60 293.61,147.64 294.27,144.70 294.92,141.79 295.58,138.90 296.23,136.04 296.89,133.21 297.54,130.41 298.20,127.64 298.85,124.90 299.51,122.19 300.16,119.52 300.82,116.88 301.47,114.28 302.13,111.72 302.78,109.20 303.44,106.71 304.09,104.27 304.75,101.86 305.41,99.50 306.06,97.19 306.72,94.91 307.37,92.69 308.03,90.50 308.69,88.37 309.34,86.29 310.00,84.25 310.66,82.26 311.31,80.33 311.97,78.44 312.63,76.61 313.28,74.84 313.94,73.11 314.60,71.44 315.26,69.83 315.92,68.27 316.58,66.77 317.24,65.33 317.90,63.94 318.56,62.61 319.23,61.34 319.89,60.14 320.56,58.99 321.22,57.90 321.89,56.87 322.57,55.90 323.24,54.99 323.92,54.15 324.60,53.37 325.28,52.65 325.97,51.99 326.67,51.39 327.37,50.86 328.08,50.40 328.80,50.00 329.53,49.67 330.26,49.41 331.00,49.22 331.75,49.11 332.50,49.07 333.25,49.11 334.00,49.22 334.74,49.41 335.47,49.67 336.20,50.00 336.92,50.40 337.63,50.86 338.33,51.39 339.03,51.99 339.72,52.65 340.40,53.37 341.08,54.15 341.76,54.99 342.43,55.90 343.11,56.87 343.78,57.90 344.44,58.99 345.11,60.14 345.77,61.34 346.44,62.61 347.10,63.94 347.76,65.33 348.42,66.77 349.08,68.27 349.74,69.83 350.40,71.44 351.06,73.11 351.72,74.84 352.37,76.61 353.03,78.44 353.69,80.33 354.34,82.26 355.00,84.25 355.66,86.29 356.31,88.37 356.97,90.50 357.63,92.69 358.28,94.91 358.94,97.19 359.59,99.50 360.25,101.86 360.91,104.27 361.56,106.71 362.22,109.20 362.87,111.72 363.53,114.28 364.18,116.88 364.84,119.52 365.49,122.19 366.15,124.90 366.80,127.64 367.46,130.41 368.11,133.21 368.77,136.04 369.42,138.90 370.08,141.79 370.73,144.70 371.39,147.64 372.04,150.60 372.70,153.59 373.35,156.60 374.01,159.63 374.66,162.67 375.32,165.74 375.97,168.82 376.63,171.92 377.28,175.04 377.94,178.16 378.59,181.30 379.25,184.46 379.90,187.62 380.55,190.79 381.21,193.97 381.86,197.16 382.52,200.35 383.17,203.55 383.83,206.76 384.48,209.96 385.14,213.17 385.79,216.38 386.45,219.59 387.10,222.80 387.75,226.00 388.41,229.20 389.06,232.40 389.72,235.60 390.37,238.79 391.03,241.97 391.68,245.14 392.34,248.31 392.99,251.46 393.64,254.61 394.30,257.74 394.95,260.87 395.61,263.98 396.26,267.07 396.92,270.15 397.57,273.22 398.22,276.27 398.88,279.31 399.53,282.33 400.19,285.33 400.84,288.31 401.50,291.27 402.15,294.22 402.80,297.14 403.46,300.04 404.11,302.92 404.77,305.78 405.42,308.62 406.07,311.43 406.73,314.22 407.38,316.99 408.04,319.73 408.69,322.45 409.34,325.14 410.00,327.81 410.65,330.45 411.31,333.06 411.96,335.65 412.61,338.21 413.27,340.74 413.92,343.25 414.58,345.73 415.23,348.18 415.88,350.60 416.54,352.99 417.19,355.36 417.84,357.69 418.50,360.00 419.15,362.28 419.81,364.53 420.46,366.75 421.11,368.94 421.77,371.10 422.42,373.23 423.07,375.34 423.73,377.41 424.38,379.45 425.03,381.46 425.69,383.45 426.34,385.40 426.99,387.33 427.65,389.22 428.30,391.09 428.95,392.92 429.60,394.73 430.26,396.51 430.91,398.26 431.56,399.98 432.21,401.67 432.87,403.33 433.52,404.97 434.17,406.57 434.82,408.15 435.48,409.70 436.13,411.22 436.78,412.71 437.43,414.18 438.08,415.62 438.74,417.03 439.39,418.42 440.04,419.78 440.69,421.11 441.34,422.42 441.99,423.70 442.64,424.96 443.29,426.19 443.94,427.39 444.60,428.57 445.25,429.73 445.90,430.86 446.55,431.97 447.20,433.05 447.85,434.11 448.50,435.15 449.15,436.17 449.79,437.16 450.44,438.13 451.09,439.08 451.74,440.01 452.39,440.92 453.04,441.80 453.69,442.67 454.34,443.51 454.98,444.34 455.63,445.15 456.28,445.93 456.93,446.70 457.58,447.45 458.22,448.18 458.87,448.89 459.52,449.59 460.16,450.26 460.81,450.92 461.46,451.57 462.10,452.19 462.75,452.80 463.40,453.40 464.04,453.98 464.69,454.54 465.34,455.09 465.98,455.63 466.63,456.14 467.27,456.65 467.92,457.14 468.56,457.62 469.21,458.09 469.86,458.54 470.50,458.98 471.15,459.41 471.79,459.82 472.44,460.22 473.08,460.62 473.73,461.00 474.37,461.36 475.02,461.72 475.66,462.07 476.31,462.41 476.95,462.74 477.60,463.05 478.24,463.36 478.89,463.66 479.54,463.95 480.18,464.23 480.83,464.50 481.47,464.77 482.12,465.02 482.76,465.27 483.41,465.51 484.05,465.74 484.70,465.97 485.35,466.18 485.99,466.39 486.64,466.60 487.28,466.79 487.93,466.98 488.58,467.17 489.22,467.35 489.87,467.52 490.52,467.69 491.16,467.85 491.81,468.00 492.46,468.15 493.11,468.30 493.75,468.44 494.40,468.57 495.05,468.70 495.70,468.83 496.34,468.95 496.99,469.07 497.64,469.18 498.29,469.29 498.94,469.40 499.58,469.50 500.23,469.60 500.88,469.69 501.53,469.79 502.18,469.87 502.83,469.96 503.48,470.04 504.13,470.12 504.78,470.19 505.43,470.27 506.08,470.34 506.73,470.41 507.38,470.47 508.03,470.53 508.68,470.59 509.33,470.65 509.98,470.71 510.63,470.76 511.28,470.81 511.93,470.86 512.58,470.91 513.23,470.96 513.88,471.00 514.53,471.04 515.19,471.08 515.84,471.12 516.49,471.16 517.14,471.20 517.79,471.23 518.44,471.27 519.10,471.30 519.75,471.33 520.40,471.36 521.05,471.39 521.70,471.41 522.36,471.44 523.01,471.46 523.66,471.49 524.31,471.51 524.97,471.53 525.62,471.55 526.27,471.57 526.93,471.59 527.58,471.61 528.23,471.63 528.88,471.65 529.54,471.66 530.19,471.68 530.84,471.69 531.50,471.71 532.15,471.72 532.80,471.73 533.46,471.75 534.11,471.76 534.76,471.77 535.42,471.78 536.07,471.79 536.72,471.80 537.38,471.81 538.03,471.82 538.69,471.83 539.34,471.84 539.99,471.84 540.65,471.85 541.30,471.86 541.95,471.87 542.61,471.87 543.26,471.88 543.92,471.88 544.57,471.89 545.22,471.90 545.88,471.90 546.53,471.91 547.19,471.91 547.84,471.91 548.49,471.92 549.15,471.92 549.80,471.93 550.46,471.93 551.11,471.93 551.76,471.94 552.42,471.94 553.07,471.94 553.73,471.95 554.38,471.95 555.04,471.95 555.69,471.95 556.34,471.96 557.00,471.96 557.65,471.96 558.31,471.96 558.96,471.97 559.62,471.97 560.27,471.97 560.92,471.97 561.58,471.97 562.23,471.97 562.89,471.97 563.54,471.98 564.20,471.98 564.85,471.98 565.50,471.98 566.16,471.98 566.81,471.98 567.47,471.98 568.12,471.98 568.78,471.98 569.43,471.99 570.09,471.99 570.74,471.99 571.39,471.99 572.05,471.99 572.70,471.99 573.36,471.99 574.01,471.99 574.67,471.99 575.32,471.99 575.97,471.99 576.63,471.99 577.28,471.99 577.94,471.99 578.59,471.99 579.25,471.99 579.90,471.99 580.56,471.99 581.21,471.99 581.87,472.00 582.52,472.00 583.17,472.00 583.83,472.00 584.48,472.00 585.14,472.00 585.79,472.00 586.45,472.00 587.10,472.00 587.76,472.00 588.41,472.00 589.06,472.00 589.72,472.00 590.37,472.00 591.03,472.00 591.68,472.00 592.34,472.00 592.99,472.00 593.65,472.00 594.30,472.00 594.30,474.00 593.65,474.00 592.99,474.00 592.34,474.00 591.68,474.00 591.03,474.00 590.37,474.00 589.72,474.00 589.06,474.00 588.41,474.00 587.75,474.00 587.10,474.00 586.45,474.00 585.79,474.00 585.14,474.00 584.48,474.00 583.83,474.00 583.17,474.00 582.52,474.00 581.86,474.00 581.21,473.99 580.56,473.99 579.90,473.99 579.25,473.99 578.59,473.99 577.94,473.99 577.28,473.99 576.63,473.99 575.97,473.99 575.32,473.99 574.66,473.99 574.01,473.99 573.36,473.99 572.70,473.99 572.05,473.99 571.39,473.99 570.74,473.99 570.08,473.99 569.43,473.99 568.77,473.98 568.12,473.98 567.46,473.98 566.81,473.98 566.16,473.98 565.50,473.98 564.85,473.98 564.19,473.98 563.54,473.98 562.88,473.97 562.23,473.97 561.57,473.97 560.92,473.97 560.26,473.97 559.61,473.97 558.95,473.96 558.30,473.96 557.65,473.96 556.99,473.96 556.34,473.96 555.68,473.95 555.03,473.95 554.37,473.95 553.72,473.95 553.06,473.94 552.41,473.94 551.75,473.94 551.10,473.93 550.44,473.93 549.79,473.93 549.13,473.92 548.48,473.92 547.83,473.91 547.17,473.91 546.52,473.90 545.86,473.90 545.21,473.89 544.55,473.89 543.90,473.88 543.24,473.88 542.59,473.87 541.93,473.86 541.28,473.86 540.62,473.85 539.97,473.84 539.31,473.83 538.66,473.82 538.00,473.82 537.35,473.81 536.69,473.80 536.04,473.79 535.38,473.78 534.73,473.77 534.07,473.75 533.42,473.74 532.76,473.73 532.11,473.72 531.45,473.70 530.80,473.69 530.14,473.67 529.49,473.66 528.83,473.64 528.18,473.62 527.52,473.60 526.86,473.59 526.21,473.57 525.55,473.55 524.90,473.52 524.24,473.50 523.59,473.48 522.93,473.45 522.28,473.43 521.62,473.40 520.96,473.37 520.31,473.35 519.65,473.31 519.00,473.28 518.34,473.25 517.68,473.22 517.03,473.18 516.37,473.14 515.71,473.11 515.06,473.07 514.40,473.02 513.75,472.98 513.09,472.94 512.43,472.89 511.77,472.84 511.12,472.79 510.46,472.73 509.80,472.68 509.15,472.62 508.49,472.56 507.83,472.50 507.17,472.44 506.52,472.37 505.86,472.30 505.20,472.23 504.54,472.15 503.88,472.07 503.23,471.99 502.57,471.91 501.91,471.82 501.25,471.73 500.59,471.64 499.93,471.54 499.27,471.44 498.61,471.33 497.96,471.22 497.30,471.11 496.64,470.99 495.98,470.87 495.32,470.74 494.66,470.61 494.00,470.48 493.33,470.34 492.67,470.19 492.01,470.04 491.35,469.89 490.69,469.73 490.03,469.56 489.37,469.39 488.71,469.21 488.04,469.02 487.38,468.83 486.72,468.63 486.06,468.43 485.39,468.22 484.73,468.00 484.07,467.77 483.41,467.54 482.74,467.30 482.08,467.05 481.42,466.79 480.75,466.52 480.09,466.25 479.43,465.97 478.76,465.67 478.10,465.37 477.43,465.06 476.77,464.74 476.11,464.41 475.44,464.07 474.78,463.72 474.12,463.35 473.45,462.98 472.79,462.60 472.12,462.20 471.46,461.79 470.80,461.37 470.13,460.94 469.47,460.50 468.81,460.04 468.15,459.57 467.48,459.09 466.82,458.59 466.16,458.08 465.50,457.56 464.84,457.02 464.18,456.47 463.52,455.90 462.86,455.32 462.20,454.72 461.54,454.10 460.88,453.47 460.22,452.83 459.56,452.16 458.90,451.48 458.24,450.79 457.58,450.07 456.93,449.34 456.27,448.59 455.61,447.82 454.95,447.04 454.30,446.23 453.64,445.41 452.98,444.56 452.33,443.70 451.67,442.81 451.02,441.91 450.36,440.99 449.71,440.04 449.05,439.07 448.40,438.08 447.74,437.07 447.09,436.04 446.44,434.99 445.78,433.91 445.13,432.81 444.47,431.69 443.82,430.54 443.17,429.37 442.51,428.17 441.86,426.95 441.21,425.71 440.55,424.44 439.90,423.14 439.25,421.82 438.59,420.48 437.94,419.11 437.29,417.71 436.63,416.28 435.98,414.83 435.33,413.35 434.68,411.85 434.02,410.32 433.37,408.76 432.72,407.17 432.06,405.55 431.41,403.91 430.76,402.24 430.10,400.54 429.45,398.81 428.80,397.05 428.14,395.26 427.49,393.45 426.84,391.60 426.18,389.73 425.53,387.83 424.88,385.89 424.23,383.93 423.57,381.94 422.92,379.92 422.27,377.87 421.61,375.79 420.96,373.68 420.30,371.55 419.65,369.38 419.00,367.18 418.34,364.96 417.69,362.70 417.04,360.42 416.38,358.11 415.73,355.76 415.08,353.39 414.42,351.00 413.77,348.57 413.12,346.11 412.46,343.63 411.81,341.12 411.15,338.58 410.50,336.02 409.85,333.43 409.19,330.81 408.54,328.17 407.88,325.50 407.23,322.80 406.58,320.08 405.92,317.33 405.27,314.57 404.61,311.77 403.96,308.96 403.31,306.12 402.65,303.25 402.00,300.37 401.34,297.47 400.69,294.54 400.04,291.60 399.38,288.63 398.73,285.65 398.07,282.64 397.42,279.62 396.77,276.59 396.11,273.53 395.46,270.46 394.80,267.38 394.15,264.28 393.49,261.17 392.84,258.05 392.19,254.91 391.53,251.77 390.88,248.61 390.22,245.44 389.57,242.27 388.91,239.09 388.26,235.90 387.60,232.70 386.95,229.50 386.30,226.30 385.64,223.09 384.99,219.89 384.33,216.68 383.68,213.47 383.02,210.26 382.37,207.05 381.71,203.85 381.06,200.65 380.41,197.46 379.75,194.27 379.10,191.09 378.44,187.92 377.79,184.76 377.13,181.61 376.48,178.47 375.82,175.34 375.17,172.23 374.51,169.13 373.86,166.05 373.20,162.99 372.55,159.94 371.89,156.91 371.24,153.91 370.58,150.93 369.93,147.97 369.27,145.03 368.62,142.12 367.96,139.23 367.31,136.38 366.65,133.55 366.00,130.75 365.34,127.99 364.69,125.25 364.03,122.55 363.38,119.88 362.72,117.25 362.07,114.65 361.41,112.10 360.76,109.58 360.10,107.10 359.44,104.66 358.79,102.27 358.13,99.91 357.48,97.60 356.82,95.34 356.17,93.12 355.51,90.95 354.85,88.83 354.20,86.75 353.54,84.73 352.88,82.75 352.23,80.83 351.57,78.96 350.91,77.15 350.26,75.38 349.60,73.68 348.94,72.03 348.28,70.43 347.63,68.90 346.97,67.42 346.31,66.00 345.65,64.65 345.00,63.35 344.34,62.11 343.68,60.94 343.03,59.83 342.37,58.78 341.71,57.80 341.06,56.89 340.41,56.04 339.76,55.25 339.11,54.54 338.47,53.89 337.83,53.31 337.20,52.80 336.58,52.35 335.97,51.97 335.37,51.66 334.77,51.40 334.19,51.21 333.62,51.08 333.06,51.00 332.50,50.97 331.94,51.00 331.38,51.08 330.81,51.21 330.23,51.40 329.63,51.66 329.03,51.97 328.42,52.35 327.80,52.80 327.17,53.31 326.53,53.89 325.89,54.54 325.24,55.25 324.59,56.04 323.94,56.89 323.29,57.80 322.63,58.78 321.97,59.83 321.32,60.94 320.66,62.11 320.00,63.35 319.35,64.65 318.69,66.00 318.03,67.42 317.37,68.90 316.72,70.43 316.06,72.03 315.40,73.68 314.74,75.38 314.09,77.15 313.43,78.96 312.77,80.83 312.12,82.75 311.46,84.73 310.80,86.75 310.15,88.83 309.49,90.95 308.83,93.12 308.18,95.34 307.52,97.60 306.87,99.91 306.21,102.27 305.56,104.66 304.90,107.10 304.24,109.58 303.59,112.10 302.93,114.65 302.28,117.25 301.62,119.88 300.97,122.55 300.31,125.25 299.66,127.99 299.00,130.75 298.35,133.55 297.69,136.38 297.04,139.23 296.38,142.12 295.73,145.03 295.07,147.97 294.42,150.93 293.76,153.91 293.11,156.91 292.45,159.94 291.80,162.99 291.14,166.05 290.49,169.13 289.83,172.23 289.18,175.34 288.52,178.47 287.87,181.61 287.21,184.76 286.56,187.92 285.90,191.09 285.25,194.27 284.59,197.46 283.94,200.65 283.29,203.85 282.63,207.05 281.98,210.26 281.32,213.47 280.67,216.68 280.01,219.89 279.36,223.09 278.70,226.30 278.05,229.50 277.40,232.70 276.74,235.90 276.09,239.09 275.43,242.27 274.78,245.44 274.12,248.61 273.47,251.77 272.81,254.91 272.16,258.05 271.51,261.17 270.85,264.28 270.20,267.38 269.54,270.46 268.89,273.53 268.23,276.59 267.58,279.62 266.93,282.64 266.27,285.65 265.62,288.63 264.96,291.60 264.31,294.54 263.66,297.47 263.00,300.37 262.35,303.25 261.69,306.12 261.04,308.96 260.39,311.77 259.73,314.57 259.08,317.33 258.42,320.08 257.77,322.80 257.12,325.50 256.46,328.17 255.81,330.81 255.15,333.43 254.50,336.02 253.85,338.58 253.19,341.12 252.54,343.63 251.88,346.11 251.23,348.57 250.58,351.00 249.92,353.39 249.27,355.76 248.62,358.11 247.96,360.42 247.31,362.70 246.66,364.96 246.00,367.18 245.35,369.38 244.70,371.55 244.04,373.68 243.39,375.79 242.73,377.87 242.08,379.92 241.43,381.94 240.77,383.93 240.12,385.89 239.47,387.83 238.82,389.73 238.16,391.60 237.51,393.45 236.86,395.26 236.20,397.05 235.55,398.81 234.90,400.54 234.24,402.24 233.59,403.91 232.94,405.55 232.28,407.17 231.63,408.76 230.98,410.32 230.32,411.85 229.67,413.35 229.02,414.83 228.37,416.28 227.71,417.71 227.06,419.11 226.41,420.48 225.75,421.82 225.10,423.14 224.45,424.44 223.79,425.71 223.14,426.95 222.49,428.17 221.83,429.37 221.18,430.54 220.53,431.69 219.87,432.81 219.22,433.91 218.56,434.99 217.91,436.04 217.26,437.07 216.60,438.08 215.95,439.07 215.29,440.04 214.64,440.99 213.98,441.91 213.33,442.81 212.67,443.70 212.02,444.56 211.36,445.41 210.70,446.23 210.05,447.04 209.39,447.82 208.73,448.59 208.07,449.34 207.42,450.07 206.76,450.79 206.10,451.48 205.44,452.16 204.78,452.83 204.12,453.47 203.46,454.10 202.80,454.72 202.14,455.32 201.48,455.90 200.82,456.47 200.16,457.02 199.50,457.56 198.84,458.08 198.18,458.59 197.52,459.09 196.85,459.57 196.19,460.04 195.53,460.50 194.87,460.94 194.20,461.37 193.54,461.79 192.88,462.20 192.21,462.60 191.55,462.98 190.88,463.35 190.22,463.72 189.56,464.07 188.89,464.41 188.23,464.74 187.57,465.06 186.90,465.37 186.24,465.67 185.57,465.97 184.91,466.25 184.25,466.52 183.58,466.79 182.92,467.05 182.26,467.30 181.59,467.54 180.93,467.77 180.27,468.00 179.61,468.22 178.94,468.43 178.28,468.63 177.62,468.83 176.96,469.02 176.29,469.21 175.63,469.39 174.97,469.56 174.31,469.73 173.65,469.89 172.99,470.04 172.33,470.19 171.67,470.34 171.00,470.48 170.34,470.61 169.68,470.74 169.02,470.87 168.36,470.99 167.70,471.11 167.04,471.22 166.39,471.33 165.73,471.44 165.07,471.54 164.41,471.64 163.75,471.73 163.09,471.82 162.43,471.91 161.77,471.99 161.12,472.07 160.46,472.15 159.80,472.23 159.14,472.30 158.48,472.37 157.83,472.44 157.17,472.50 156.51,472.56 155.85,472.62 155.20,472.68 154.54,472.73 153.88,472.79 153.23,472.84 152.57,472.89 151.91,472.94 151.25,472.98 150.60,473.02 149.94,473.07 149.29,473.11 148.63,473.14 147.97,473.18 147.32,473.22 146.66,473.25 146.00,473.28 145.35,473.31 144.69,473.35 144.04,473.37 143.38,473.40 142.72,473.43 142.07,473.45 141.41,473.48 140.76,473.50 140.10,473.52 139.45,473.55 138.79,473.57 138.14,473.59 137.48,473.60 136.82,473.62 136.17,473.64 135.51,473.66 134.86,473.67 134.20,473.69 133.55,473.70 132.89,473.72 132.24,473.73 131.58,473.74 130.93,473.75 130.27,473.77 129.62,473.78 128.96,473.79 128.31,473.80 127.65,473.81 127.00,473.82 126.34,473.82 125.69,473.83 125.03,473.84 124.38,473.85 123.72,473.86 123.07,473.86 122.41,473.87 121.76,473.88 121.10,473.88 120.45,473.89 119.79,473.89 119.14,473.90 118.48,473.90 117.83,473.91 117.17,473.91 116.52,473.92 115.87,473.92 115.21,473.93 114.56,473.93 113.90,473.93 113.25,473.94 112.59,473.94 111.94,473.94 111.28,473.95 110.63,473.95 109.97,473.95 109.32,473.95 108.66,473.96 108.01,473.96 107.35,473.96 106.70,473.96 106.05,473.96 105.39,473.97 104.74,473.97 104.08,473.97 103.43,473.97 102.77,473.97 102.12,473.97 101.46,473.98 100.81,473.98 100.15,473.98 99.50,473.98 98.84,473.98 98.19,473.98 97.54,473.98 96.88,473.98 96.23,473.98 95.57,473.99 94.92,473.99 94.26,473.99 93.61,473.99 92.95,473.99 92.30,473.99 91.64,473.99 90.99,473.99 90.34,473.99 89.68,473.99 89.03,473.99 88.37,473.99 87.72,473.99 87.06,473.99 86.41,473.99 85.75,473.99 85.10,473.99 84.44,473.99 83.79,473.99 83.14,474.00 82.48,474.00 81.83,474.00 81.17,474.00 80.52,474.00 79.86,474.00 79.21,474.00 78.55,474.00 77.90,474.00 77.25,474.00 76.59,474.00 75.94,474.00 75.28,474.00 74.63,474.00 73.97,474.00 73.32,474.00 72.66,474.00 72.01,474.00 71.35,474.00 70.70,474.00" fill="#000" stroke="none"/><rect x="70.7" y="472" width="6.3" height="1" fill="#8B7D6B"/><rect x="588.0" y="472" width="6.3" height="1" fill="#8B7D6B"/><rect x="77" y="472" width="17.0" height="1" fill="#A020F0"/><rect x="571.0" y="472" width="17.0" height="1" fill="#A020F0"/><rect x="94" y="472" width="6.0" height="1" fill="#00CDCD"/><rect x="565.0" y="472" width="6.0" height="1" fill="#00CDCD"/><rect x="100" y="472" width="9.0" height="1" fill="#00FF00"/><rect x="556.0" y="472" width="9.0" height="1" fill="#00FF00"/></g>
<g class="tk"><line x1="42.00" x2="45.00" y1="473.40" y2="473.40"/><line x1="42.00" x2="45.00" y1="367.12" y2="367.12"/><line x1="42.00" x2="45.00" y1="260.85" y2="260.85"/><line x1="42.00" x2="45.00" y1="154.58" y2="154.58"/><line x1="42.00" x2="45.00" y1="48.30" y2="48.30"/><line x1="70.70" x2="70.70" y1="494.30" y2="497.30"/><line x1="201.60" x2="201.60" y1="494.30" y2="497.30"/><line x1="332.50" x2="332.50" y1="494.30" y2="497.30"/><line x1="463.40" x2="463.40" y1="494.30" y2="497.30"/><line x1="594.30" x2="594.30" y1="494.30" y2="497.30"/></g>
<g class="ax"><text transform="translate(39.7,479.10) scale(1.03,1.06)" text-anchor="end">0.0</text><text transform="translate(39.7,372.82) scale(1.03,1.06)" text-anchor="end">0.1</text><text transform="translate(39.7,266.55) scale(1.03,1.06)" text-anchor="end">0.2</text><text transform="translate(39.7,160.28) scale(1.03,1.06)" text-anchor="end">0.3</text><text transform="translate(39.7,54.00) scale(1.03,1.06)" text-anchor="end">0.4</text><text transform="translate(70.70,509.9) scale(1,1.06)" text-anchor="middle">-5.0</text><text transform="translate(201.60,509.9) scale(1,1.06)" text-anchor="middle">-2.5</text><text transform="translate(332.50,509.9) scale(1,1.06)" text-anchor="middle">0.0</text><text transform="translate(463.40,509.9) scale(1,1.06)" text-anchor="middle">2.5</text><text transform="translate(594.30,509.9) scale(1,1.06)" text-anchor="middle">5.0</text></g>
<text class="at" x="332.5" y="525" text-anchor="middle">x</text>
<text class="at" transform="translate(14.6,261.7) rotate(-90)" text-anchor="middle">f(x)</text>
<g><line x1="490" x2="504" y1="128.95" y2="128.95" stroke="#FF0000" stroke-width="2.0"/><text transform="translate(511.2,134.15) scale(1,1.06)" class="lg">n=3</text><line x1="490" x2="504" y1="145.60" y2="145.60" stroke="#8B7D6B" stroke-width="1.5"/><text transform="translate(511.2,151.08) scale(1,1.06)" class="lg">n=10</text><line x1="490" x2="504" y1="162.90" y2="162.90" stroke="#A020F0" stroke-width="2.0"/><text transform="translate(511.2,168.01) scale(1,1.06)" class="lg">n=30</text><line x1="490" x2="504" y1="179.85" y2="179.85" stroke="#00CDCD" stroke-width="1.7"/><text transform="translate(511.2,184.94) scale(1,1.06)" class="lg">n=60</text><line x1="490" x2="504" y1="196.50" y2="196.50" stroke="#00FF00" stroke-width="1.4"/><text transform="translate(511.2,201.87) scale(1,1.06)" class="lg">n=100</text><line x1="490" x2="504" y1="213.50" y2="213.50" stroke="#000000" stroke-width="1.5"/><text x="511.4" y="219.10" class="lgc">标准正态分布</text></g>
</svg>
</body></html>
